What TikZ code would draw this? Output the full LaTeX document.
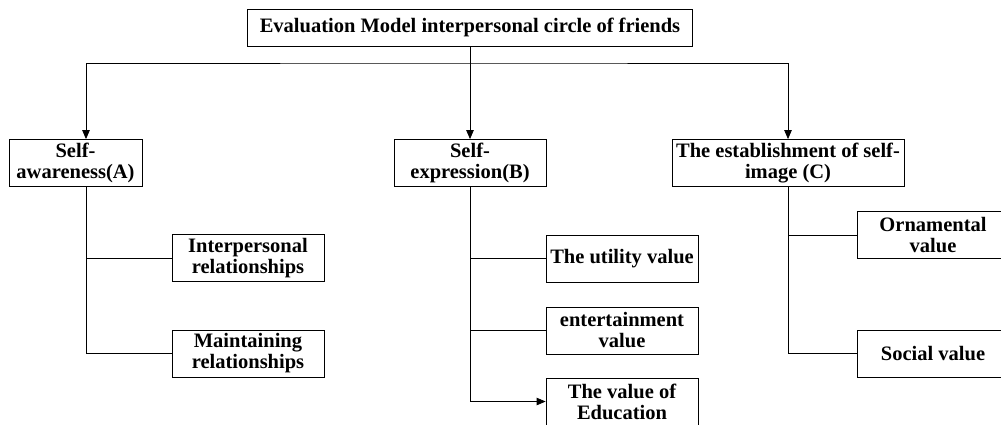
\documentclass[tikz,border=0pt]{standalone}
\usepackage{fontspec}
\setmainfont{Liberation Serif}
\usetikzlibrary{arrows.meta}

\begin{document}
\begin{tikzpicture}[x=1pt, y=-1pt,
    >={Triangle[length=9pt,width=7.5pt]},
    line width=0.8pt,
    box/.style={draw, inner sep=0pt, align=center, minimum height=47pt,
        font=\fontsize{20.5}{21}\selectfont\bfseries},
    leaf/.style={box, minimum width=152pt}]
    \useasboundingbox (0,0) rectangle (1001,424);

    \node [box, minimum width=445pt, minimum height=37pt] (top) at (470,27.5)
        {Evaluation Model interpersonal circle of friends};

    \node [box, minimum width=133pt] (A) at (75.5,163) {Self-\\awareness(A)};
    \node [box, minimum width=152pt] (B) at (470,163) {Self-\\expression(B)};
    \node [box, minimum width=232pt] (C) at (788,163) {The establishment of self-\\image (C)};

    \node [leaf] (a1) at (248,258) {Interpersonal\\relationships};
    \node [leaf] (a2) at (248,353.5) {Maintaining\\relationships};

    \node [leaf] (b1) at (622,258.5) {The utility value};
    \node [leaf] (b2) at (622,330.5) {entertainment\\value};
    \node [leaf] (b3) at (622,401.5) {The value of\\Education};

    \node [leaf] (c1) at (933,235) {Ornamental\\value};
    \node [leaf] (c2) at (933,353.5) {Social value};

    % top level
    \coordinate (hub) at (top.south |- 0,63);
    \coordinate (aIn) at ([xshift=10.5pt]A.north);
    \coordinate (aOut) at ([xshift=10.5pt]A.south);
    \draw [->] (top.south) -- (B.north);
    \draw [<->] (aIn) |- (hub) -| (C.north);

    % branches
    \draw (aOut) |- (a2.west);
    \draw (a1.west) -- (a1.west -| aOut);

    \draw [->] (B.south) |- (b3.west);
    \draw (b1.west) -- (b1.west -| B.south);
    \draw (b2.west) -- (b2.west -| B.south);

    \draw (C.south) |- (c2.west);
    \draw (c1.west) -- (c1.west -| C.south);
\end{tikzpicture}
\end{document}
